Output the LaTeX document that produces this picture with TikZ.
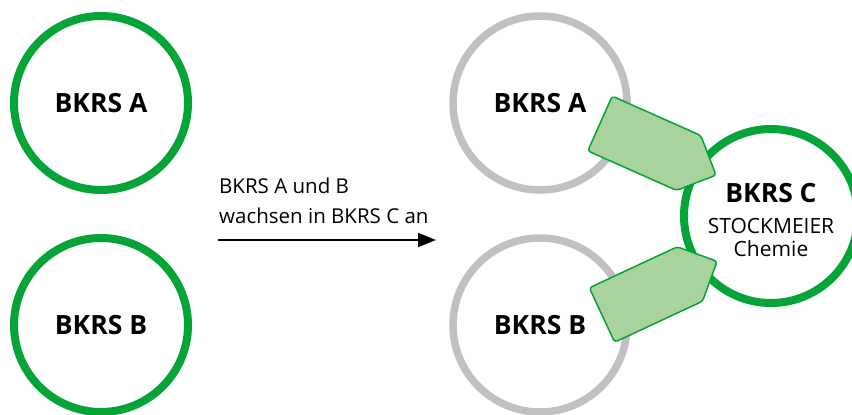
\documentclass[tikz,border=0pt]{standalone}
\usepackage{fontspec}
\setmainfont{Open Sans}
\usetikzlibrary{arrows.meta}
\definecolor{kgreen}{RGB}{4,164,56}
\definecolor{kfill}{RGB}{169,211,156}
\definecolor{kgray}{RGB}{192,191,194}
\tikzset{
  ring/.style={circle, minimum size=174pt, inner sep=0pt, line width=8pt, fill=white,
    font=\fontsize{26.5}{30}\selectfont\bfseries},
  greenring/.style={ring, draw=kgreen},
  grayring/.style={ring, draw=kgray, line width=7.5pt},
  growarrow/.style={draw=kgreen, fill=kfill, line width=1.5pt, rounded corners=3pt},
  smalltext/.style={font=\fontsize{20.5}{30}\selectfont, inner sep=0pt},
  flow/.style={line width=1.8pt, -{Triangle[length=18pt,width=14pt]}}
}
\begin{document}
\begin{tikzpicture}[x=1pt,y=-1pt]
\useasboundingbox (0,0) rectangle (852,415);
% left side
\node[greenring] (a1) at (101,103) {BKRS A};
\node[greenring] (b1) at (101,325) {BKRS B};
% middle label and arrow
\node[smalltext, anchor=base west] (l1) at (219,193) {BKRS A und B};
\node[smalltext, anchor=base west] (l2) at (219,223) {wachsen in BKRS C an};
\coordinate (fs) at (218,240);
\coordinate (fe) at (436,240);
\draw[flow] (fs) -- (fe);
% right side
\node[grayring] (a2) at (540,103) {BKRS A};
\node[grayring] (b2) at (540,325) {BKRS B};
\node[greenring] (c) at (771,216) {};
\node[anchor=base, inner sep=0pt, font=\fontsize{26.5}{30}\selectfont\bfseries] (c1) at (771,202.5) {BKRS C};
\node[anchor=base, inner sep=0pt, font=\fontsize{21}{24}\selectfont] (c2) at (771,233.5) {STOCKMEIER};
\node[anchor=base, inner sep=0pt, font=\fontsize{21}{24}\selectfont] (c3) at (771,256) {Chemie};
% growth arrows
\begin{scope}[shift={(600,123.5)}, rotate=-24]
  \draw[growarrow] (0,-30) -- (97,-30) -- (127,0) -- (97,30) -- (0,30) -- cycle;
\end{scope}
\begin{scope}[shift={(602,315)}, rotate=25]
  \draw[growarrow] (0,-30) -- (97,-30) -- (127,0) -- (97,30) -- (0,30) -- cycle;
\end{scope}
\end{tikzpicture}
\end{document}
